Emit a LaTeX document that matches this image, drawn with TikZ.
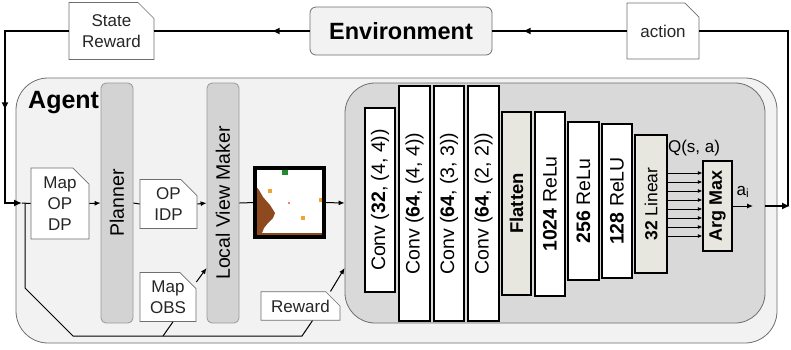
\documentclass[tikz,border=0pt]{standalone}
\usepackage{fontspec}
\setmainfont{Liberation Sans}
\usetikzlibrary{arrows.meta,shapes.misc,shadows,decorations.markings}
\newcommand{\fsz}[1]{\fontsize{#1}{#1}\selectfont}
\newcommand{\fszl}[1]{\fontsize{#1}{21}\selectfont}
\definecolor{agentbg}{HTML}{F2F2F2}
\definecolor{netbg}{HTML}{D9D9D9}
\definecolor{blockbg}{HTML}{D3D3D3}
\definecolor{layerbg}{HTML}{E7E7DF}
\definecolor{edgegray}{HTML}{6E6E6E}
\definecolor{soil}{HTML}{8E4A1E}
\definecolor{goal}{HTML}{1E8C2E}
\definecolor{cell}{HTML}{F4A236}
\definecolor{probe}{HTML}{F08070}
\begin{document}
\begin{tikzpicture}[x=1pt,y=-1pt,
  loopline/.style={line width=2.2pt, black},
  conn/.style={line width=1pt, black},
  tip/.style={-{Latex[length=6pt,width=5pt]}},
  smalltip/.style={-{Latex[length=4.5pt,width=4pt]}},
  bigtip/.style={-{Latex[length=8pt,width=7pt]}},
  midtip/.style={postaction={decorate}, decoration={markings,
      mark=at position #1 with {\arrow{Latex[length=8pt,width=7pt]}}}},
  docbox/.style={chamfered rectangle, chamfered rectangle corners=north east,
      chamfered rectangle xsep=8pt, chamfered rectangle ysep=8pt,
      draw=edgegray, fill=white, line width=0.7pt, inner sep=0pt,
      align=center, font=\fszl{17}, text=black!85},
  module/.style={draw=edgegray!70, fill=blockbg, rounded corners=5pt,
      line width=0.8pt, minimum width=240pt, minimum height=32pt,
      rotate=90, inner sep=0pt, font=\fsz{19.5}},
  layer/.style 2 args={draw=black, line width=1.2pt, fill=white, inner sep=0pt,
      rotate=90, minimum width=#2, minimum height=#1, font=\fsz{19.5}},
]
\useasboundingbox (0,0) rectangle (791,349);

% ---------- agent container and network panel ----------
\node[draw=edgegray, fill=agentbg, rounded corners=32pt, line width=0.8pt,
      minimum width=761pt, minimum height=265pt, inner sep=0pt] (agent) at (396.5,210.5) {};
\node[anchor=base west, font=\bfseries\fsz{25}, inner sep=0pt] (agentlbl) at (28,108) {Agent};
\node[draw=edgegray, fill=netbg, rounded corners=30pt, line width=0.8pt,
      minimum width=420pt, minimum height=240pt, inner sep=0pt] (net) at (555,203) {};

% ---------- environment loop ----------
\node[draw=edgegray, fill=agentbg, rounded corners=6pt, line width=0.8pt,
      minimum width=182pt, minimum height=48pt, inner sep=0pt,
      font=\bfseries\fsz{23.5}] (env) at (401,31) {Environment};
\node[docbox, minimum width=85pt, minimum height=57pt] (sr) at (111.5,31) {State\\Reward};
\node[docbox, minimum width=72pt, minimum height=56pt] (act) at (663,31) {action};

\draw[loopline, midtip=38pt] (env.west) -- (sr.east);
\draw[loopline, midtip=104pt] (act.west) -- (env.east);

% ---------- agent pipeline ----------
\node[docbox, minimum width=58pt, minimum height=71pt] (mapd) at (60,203.5) {Map\\OP\\DP};
\node[module] (planner) at (117,203) {Planner};
\node[docbox, minimum width=57pt, minimum height=48pt] (opidp) at (168.5,204) {OP\\IDP};
\node[module] (lvm) at (223,203) {Local View Maker};
\node[docbox, minimum width=56pt, minimum height=44pt] (mapobs) at (168,297) {Map\\OBS};
\node[docbox, minimum width=79pt, minimum height=26pt] (rew) at (300.5,306) {Reward};

% local view thumbnail
\node[fill=white, minimum size=69pt, inner sep=0pt, outer sep=0pt,
      drop shadow={shadow xshift=1.5pt, shadow yshift=-1.5pt, opacity=0.35}] (view) at (289.5,202.5) {};
\fill[soil] (256.5,187) -- (259,190) -- (263,197) -- (270,205) -- (275,213)
   -- (273,218) -- (268,223) -- (264,228) -- (262,233) -- (322.5,233)
   -- (322.5,235.5) -- (256.5,235.5) -- cycle;
\fill[goal] (282,169) rectangle (288,174.5);
\fill[cell] (268,189) rectangle (272,193);
\fill[cell] (319,198) rectangle (322.5,202);
\fill[cell] (301,216) rectangle (305,220);
\fill[probe] (288.3,202.3) rectangle (289.8,203.8);
\draw[line width=4pt, black] (view.north west) rectangle (view.south east);

% main signal line
\coordinate (entry) at (22,203);
\coordinate (split) at (25,203);
\coordinate (bend1) at (25,288);
\coordinate (bend2) at (73,336);
\coordinate (tapobs) at (163,336);
\coordinate (taprew) at (302,336);

\draw[loopline, bigtip, midtip=143pt] (sr.west) -| (5,203) -- (entry);
\draw[conn] (entry) -- (mapd.west);
\draw[conn, tip] (mapd.east) -- (planner.north);
\draw[conn] (planner.south) -- (opidp.west);
\draw[conn, tip] (opidp.east) -- (lvm.north);
\draw[conn] (lvm.south) -- (view.west);
\draw[conn, tip] (view.east) -- (net.west);

% feedback branch along the bottom
\draw[conn] (split) -- (bend1) -- (bend2) -- (taprew) -- ([xshift=12pt]rew.south);
\draw[conn] (tapobs) -- ([xshift=5pt]mapobs.south);
\draw[conn, tip] ([yshift=15pt]mapobs.east) -- ([yshift=-65pt]lvm.north);
\draw[conn, tip] ([xshift=30pt]rew.north) -- ([yshift=-65pt]net.west);

% ---------- Q-network ----------
\node[layer={30pt}{184pt}] (c1) at (380,200) {Conv (\textbf{32}, (4, 4))};
\node[layer={31pt}{235pt}] (c2) at (414.5,203.5) {Conv (\textbf{64}, (4, 4))};
\node[layer={30pt}{235pt}] (c3) at (449,203.5) {Conv (\textbf{64}, (3, 3))};
\node[layer={31pt}{235pt}] (c4) at (483.5,203.5) {Conv (\textbf{64}, (2, 2))};
\node[layer={29pt}{183pt}, fill=layerbg, font=\bfseries\fsz{18.5}] (flat) at (516.5,203.5) {Flatten};
\node[layer={30pt}{184pt}] (d1) at (550,204) {\textbf{1024} ReLu};
\node[layer={31pt}{158pt}] (d2) at (583.5,201) {\textbf{256} ReLu};
\node[layer={30pt}{154pt}] (d3) at (617,201) {\textbf{128} ReLU};
\node[layer={32pt}{138pt}, fill=layerbg, font=\fsz{17.5}] (lin) at (651,204) {\textbf{32} Linear};
\node[layer={29pt}{90pt}, fill=layerbg, font=\bfseries\fsz{18}] (argmax) at (717.5,206) {Arg Max};
\node[font=\fsz{17}, inner sep=0pt] (qlbl) at (694,148) {Q(s, a)};

\foreach \d [count=\i] in {31,22,13,4,-5,-14,-23,-32} {
  \coordinate (q\i) at ([yshift=\d pt]lin.south);
  \draw[conn, smalltip] (q\i) -- (q\i -| argmax.north);
}

\coordinate (aout) at (753,206);
\draw[conn, tip] (argmax.south) -- (aout);
\node[font=\fsz{17}, inner sep=0pt] (ailbl) at (743,192) {a\textsubscript{i}};

% output back to the environment
\coordinate (outR) at (788,206);
\draw[loopline] (act.east) -| (outR);
\draw[loopline, bigtip] ([yshift=-3pt]net.east) -- ([xshift=2pt]outR);
\end{tikzpicture}
\end{document}
